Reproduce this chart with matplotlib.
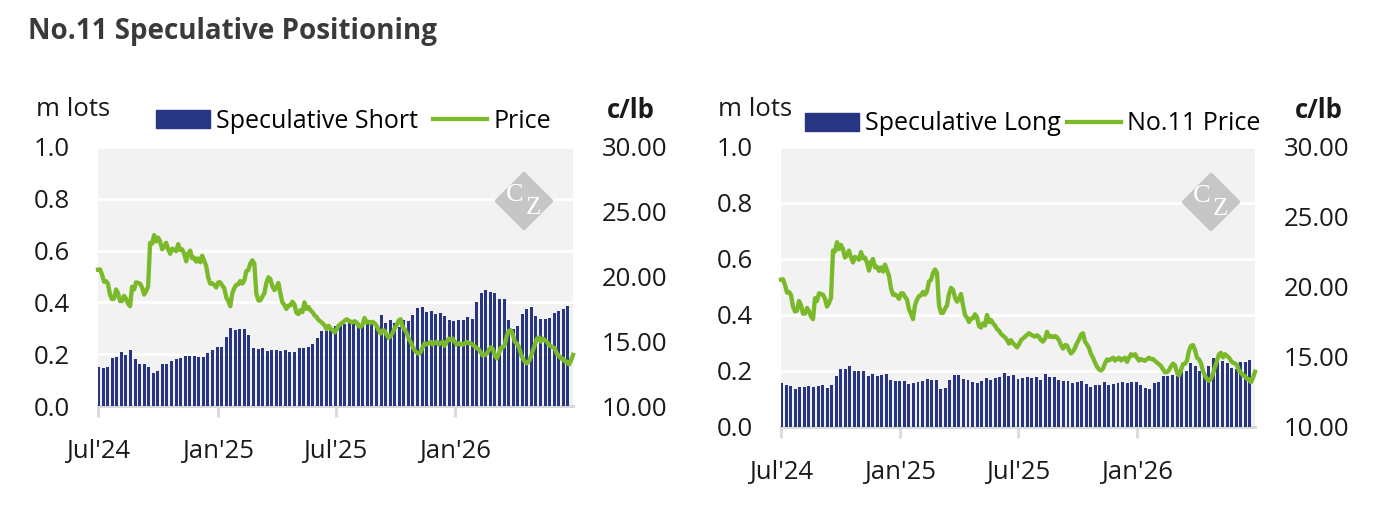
import matplotlib.pyplot as plt
import matplotlib.dates as mdates
import matplotlib.ticker as mticker
from matplotlib.patches import Patch, Polygon
from matplotlib.lines import Line2D
import pandas as pd

plt.rcParams['font.family'] = ['Open Sans', 'DejaVu Sans']

# weekly positioning (m lots), Tuesdays from 2 Jul 2024
spec_short = [
    0.150, 0.146, 0.150, 0.185, 0.188, 0.208, 0.196, 0.215, 0.181, 0.162,
    0.162, 0.150, 0.127, 0.135, 0.162, 0.162, 0.173, 0.181, 0.185, 0.192,
    0.192, 0.192, 0.188, 0.188, 0.204, 0.215, 0.227, 0.227, 0.265, 0.300,
    0.292, 0.296, 0.296, 0.273, 0.223, 0.219, 0.223, 0.212, 0.215, 0.215,
    0.212, 0.215, 0.208, 0.208, 0.223, 0.223, 0.227, 0.238, 0.262, 0.288,
    0.288, 0.300, 0.310, 0.320, 0.315, 0.322, 0.318, 0.322, 0.318, 0.322,
    0.324, 0.310, 0.350, 0.319, 0.331, 0.322, 0.305, 0.331, 0.327, 0.350,
    0.377, 0.381, 0.362, 0.368, 0.354, 0.358, 0.346, 0.331, 0.327, 0.331,
    0.331, 0.342, 0.337, 0.400, 0.435, 0.446, 0.442, 0.438, 0.415, 0.412,
    0.331, 0.296, 0.308, 0.354, 0.373, 0.381, 0.346, 0.335, 0.335, 0.338,
    0.358, 0.365, 0.373, 0.385,
]
spec_long = [
    0.158, 0.151, 0.147, 0.136, 0.144, 0.144, 0.147, 0.144, 0.147, 0.151,
    0.140, 0.151, 0.182, 0.207, 0.207, 0.218, 0.200, 0.200, 0.200, 0.182,
    0.189, 0.182, 0.186, 0.189, 0.168, 0.165, 0.165, 0.165, 0.154, 0.158,
    0.161, 0.165, 0.172, 0.168, 0.168, 0.136, 0.140, 0.168, 0.186, 0.186,
    0.172, 0.168, 0.161, 0.158, 0.165, 0.175, 0.168, 0.175, 0.179, 0.193,
    0.182, 0.186, 0.172, 0.175, 0.179, 0.175, 0.179, 0.168, 0.189, 0.179,
    0.179, 0.168, 0.165, 0.165, 0.158, 0.161, 0.165, 0.154, 0.144, 0.151,
    0.151, 0.161, 0.151, 0.154, 0.158, 0.161, 0.158, 0.162, 0.160, 0.151,
    0.140, 0.137, 0.157, 0.160, 0.181, 0.183, 0.186, 0.181, 0.205, 0.200,
    0.229, 0.217, 0.200, 0.190, 0.217, 0.248, 0.232, 0.236, 0.229, 0.212,
    0.208, 0.231, 0.231, 0.238,
]
# No.11 price (c/lb), read roughly every 3 days, Jul 2024 - Jun 2026
price = [
    20.53, 20.55, 20.15, 19.6, 19.65, 19.42, 18.6, 18.25, 18.3, 19.0,
    18.71, 18.1, 18.1, 18.5, 18.28, 17.9, 17.7, 19.2, 19.0, 19.55,
    19.5, 19.45, 19.15, 18.6, 18.85, 19.23, 22.6, 22.54, 23.2, 22.7,
    23.0, 22.7, 22.1, 22.3, 22.6, 22.1, 21.75, 22.15, 22.07, 21.95,
    22.5, 22.05, 22.1, 21.75, 21.17, 21.79, 22.0, 21.4, 21.45, 21.15,
    21.4, 21.1, 21.6, 21.2, 20.8, 19.9, 19.45, 19.47, 19.35, 19.15,
    19.55, 19.55, 19.3, 19.1, 18.4, 18.1, 17.7, 18.7, 19.1, 19.35,
    19.4, 19.65, 19.45, 19.7, 20.4, 20.5, 21.0, 21.25, 21.0, 18.7,
    18.15, 18.15, 18.45, 18.7, 19.5, 19.94, 19.8, 19.25, 18.95, 19.15,
    19.5, 18.7, 18.0, 17.8, 17.5, 17.75, 17.77, 18.05, 17.85, 17.2,
    17.1, 17.4, 17.25, 18.0, 17.5, 17.65, 17.4, 17.25, 17.0, 16.88,
    16.65, 16.53, 16.4, 16.22, 15.95, 16.2, 15.98, 15.86, 15.68, 15.9,
    16.2, 16.33, 16.45, 16.57, 16.7, 16.6, 16.51, 16.45, 16.55, 16.45,
    16.2, 16.1, 16.3, 16.8, 16.45, 16.5, 16.41, 16.5, 16.4, 16.2,
    15.85, 15.6, 15.85, 15.82, 15.5, 15.25, 15.4, 15.65, 16.0, 16.25,
    16.6, 16.7, 16.1, 15.9, 15.65, 15.2, 14.95, 14.6, 14.3, 14.12,
    14.03, 14.17, 14.55, 14.83, 14.75, 14.85, 14.95, 14.74, 14.87, 14.95,
    14.75, 14.86, 14.95, 14.65, 14.95, 15.2, 15.1, 15.2, 14.95, 14.74,
    14.85, 14.78, 14.73, 14.85, 14.95, 14.85, 14.85, 14.72, 14.6, 14.48,
    14.36, 14.12, 13.91, 13.92, 14.05, 14.33, 14.53, 14.4, 13.9, 13.68,
    14.05, 14.5, 14.52, 14.75, 15.45, 15.8, 15.85, 15.5, 14.95, 14.83,
    14.55, 14.0, 13.65, 13.42, 13.3, 13.45, 13.82, 14.3, 14.75, 15.2,
    15.3, 14.97, 15.2, 15.08, 14.96, 14.72, 14.6, 14.53, 14.45, 14.0,
    13.9, 13.67, 13.65, 13.43, 13.43, 13.2, 13.5, 13.95,
]
tick_labels_at = ['2024-07-01', '2025-01-01', '2025-07-01', '2026-01-01']

bar_dates = pd.date_range('2024-07-02', periods=len(spec_short), freq='7D')
price_dates = pd.date_range('2024-07-01', '2026-07-01', periods=len(price))

NAVY = '#283583'
GREEN = '#7ab929'
BG = '#f2f2f2'
TXT = '#1a1a1a'
W, H = 1394, 512
FS = 18.5


def fx(px):
    return px / W


def fy(py):
    return 1 - py / H


fig = plt.figure(figsize=(W / 100, H / 100), dpi=100)
fig.text(fx(28), fy(32), 'No.11 Speculative Positioning', fontsize=20,
         fontweight='bold', color='#3a3a3a', va='center')


def panel(box, bars, bar_name, line_name, logo_xy, leg_xy, colsp, mlots_x, clb_x):
    x0, y0, x1, y1 = box
    ax = fig.add_axes([fx(x0), fy(y1), fx(x1 - x0), (y1 - y0) / H])
    ax.set_facecolor(BG)
    ax.bar(bar_dates, bars, width=4.6, color=NAVY, zorder=3)
    ax.set_ylim(0, 1)
    ax.set_yticks([0, 0.2, 0.4, 0.6, 0.8, 1.0])
    ax.yaxis.set_major_formatter(mticker.FormatStrFormatter('%.1f'))
    ax.grid(axis='y', color='white', lw=2, zorder=0)
    ax.set_axisbelow(True)
    ax.set_xlim(pd.Timestamp('2024-07-01'), pd.Timestamp('2026-07-01'))
    ax.set_xticks(pd.to_datetime(tick_labels_at))
    ax.xaxis.set_major_formatter(mdates.DateFormatter("%b'%y"))
    for s in ['top', 'right', 'left']:
        ax.spines[s].set_visible(False)
    ax.spines['bottom'].set_color('#d9d9d9')
    ax.spines['bottom'].set_linewidth(2.2)
    ax.tick_params(axis='x', color='#d9d9d9', length=8, width=2, pad=16,
                   labelsize=FS, labelcolor=TXT)
    ax.tick_params(axis='y', length=0, pad=20, labelsize=FS, labelcolor=TXT)

    ax2 = ax.twinx()
    ax2.plot(price_dates, price, color=GREEN, lw=3.1, zorder=4, clip_on=False)
    ax2.set_ylim(10, 30)
    ax2.set_yticks(range(10, 31, 5))
    ax2.yaxis.set_major_formatter(mticker.FormatStrFormatter('%.2f'))
    for s in ax2.spines.values():
        s.set_visible(False)
    ax2.tick_params(axis='y', length=0, pad=21, labelsize=FS, labelcolor=TXT)

    handles = [Patch(color=NAVY), Line2D([], [], color=GREEN, lw=3.1)]
    ax2.legend(handles, [bar_name, line_name], ncol=2, frameon=False,
               loc='center left', bbox_to_anchor=(fx(leg_xy[0]), fy(leg_xy[1])),
               bbox_transform=fig.transFigure, fontsize=18, handlelength=2.15,
               handletextpad=0.25, columnspacing=colsp, borderpad=0,
               borderaxespad=0)

    fig.text(fx(mlots_x), fy(110), 'm lots', fontsize=FS, color=TXT, va='center')
    fig.text(fx(clb_x), fy(110), 'c/lb', fontsize=FS, fontweight='bold',
             color=TXT, va='center')

    # CZ watermark
    cx, cy = logo_xy
    lg = fig.add_axes([fx(cx - 29), fy(cy + 29), fx(58), 58 / H])
    lg.axis('off')
    lg.set_xlim(0, 1)
    lg.set_ylim(0, 1)
    lg.add_patch(Polygon([(0.5, 0), (1, 0.5), (0.5, 1), (0, 0.5)],
                         closed=True, color='#c6c6c6'))
    lg.text(0.34, 0.6, 'C', color='white', fontsize=19, family='Liberation Serif',
            ha='center', va='center')
    lg.text(0.66, 0.38, 'Z', color='white', fontsize=18, family='Liberation Serif',
            ha='center', va='center')
    return ax


panel((98, 147, 573, 406), spec_short, 'Speculative Short', 'Price',
      (524, 201), (156, 121), 0.6, 36, 607)
panel((781, 147, 1255, 427), spec_long, 'Speculative Long', 'No.11 Price',
      (1211, 202), (805, 124), 0.25, 718, 1295)

fig.savefig('out.png', dpi=100)
